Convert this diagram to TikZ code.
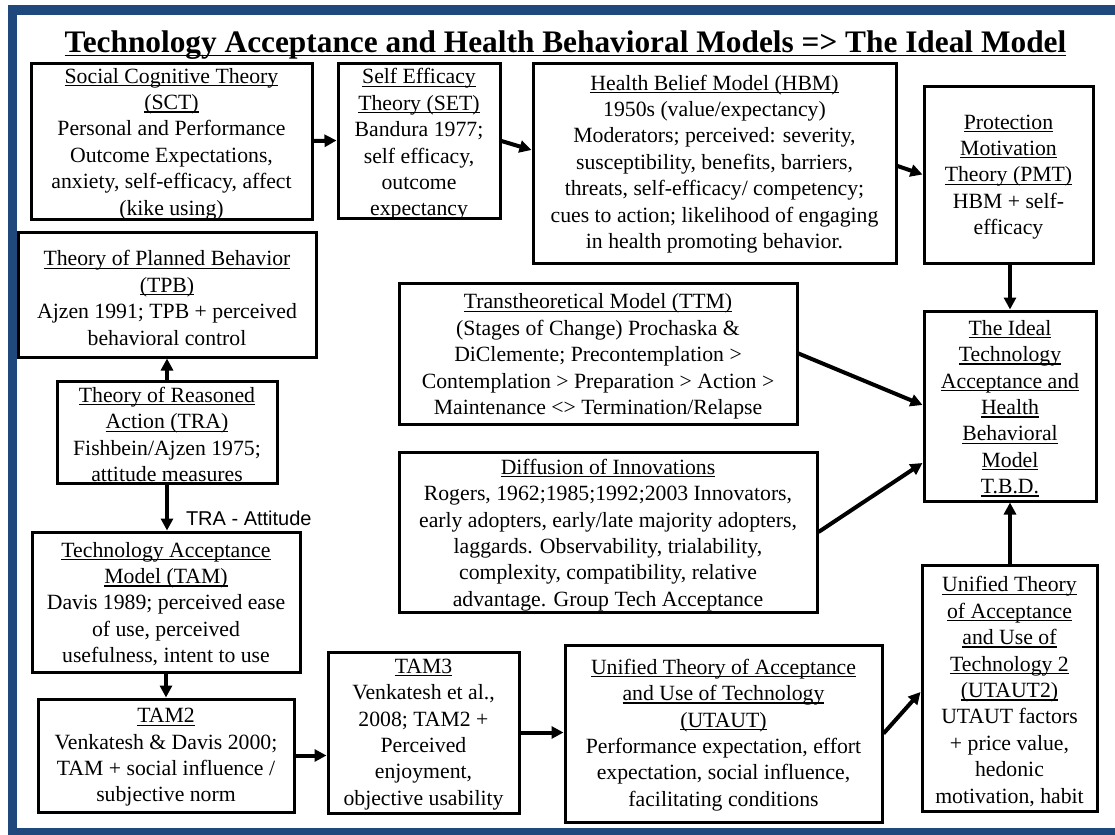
\documentclass[tikz,border=0pt]{standalone}
\usepackage{fontspec}
\newfontfamily\bodyserif{Liberation Serif}
\newfontfamily\labelsans{Liberation Sans}
\usetikzlibrary{arrows.meta,calc,fit}
\definecolor{frameblue}{HTML}{1F497D}
% underline at a fixed depth below the baseline
\newsavebox\ulinebox
\newcommand\uln[1]{\sbox\ulinebox{#1}\rlap{\rule[-0.14em]{\wd\ulinebox}{0.06em}}\usebox\ulinebox}

\begin{document}
\begin{tikzpicture}[x=0.75pt,y=-0.75pt,
  box/.style={draw=black, line width=2.25pt, inner sep=0pt, fill=white},
  txt/.style={align=center, inner sep=0pt, font=\bodyserif\fontsize{16.3}{19.8}\selectfont},
  arr/.style={line width=3pt, -{Triangle[length=9pt,width=9pt]}}
]
\useasboundingbox (0,0) rectangle (1115,835);
% frame
\fill[frameblue] (8,5) rectangle (1115,835);
\fill[white] (17,15) rectangle (1115,828);

% title
\node[anchor=base, inner sep=0pt, font=\bodyserif\bfseries\fontsize{23.5}{28}\selectfont] (title) at (565.5,52)
  {\uln{Technology Acceptance and Health Behavioral Models => The Ideal Model}};

% boxes
\node[box, fit={(31,63) (312,219)}] (sct) {};
\node[box, fit={(338,63) (500,218)}] (set) {};
\node[box, fit={(533,63) (896,263)}] (hbm) {};
\node[box, fit={(924,86) (1093,263)}] (pmt) {};
\node[box, fit={(18,232) (316,357)}] (tpb) {};
\node[box, fit={(57,381) (277,483)}] (tra) {};
\node[box, fit={(32,532) (300,672)}] (tam) {};
\node[box, fit={(38,699) (294,812)}] (tam2) {};
\node[box, fit={(328,652) (519,813)}] (tam3) {};
\node[box, fit={(565,645) (882,822)}] (utaut) {};
\node[box, fit={(922,565) (1097,811)}] (utaut2) {};
\node[box, fit={(399,283) (797,424)}] (ttm) {};
\node[box, fit={(399,452) (817,612)}] (doi) {};
\node[box, fit={(924,311) (1096,501)}] (ideal) {};

% box texts
\node[txt] (sct-t) at (171.5,144) {\uln{Social Cognitive Theory}\\ \uln{(SCT)}\\ Personal and Performance\\ Outcome Expectations,\\ anxiety, self-efficacy, affect\\ (kike using)};
\node[txt] (set-t) at (419,144.5) {\uln{Self Efficacy}\\ \uln{Theory (SET)}\\ Bandura 1977;\\ self efficacy,\\ outcome\\ expectancy};
\node[txt] (hbm-t) at (714.5,164) {\uln{Health Belief Model (HBM)}\\ 1950s (value/expectancy)\\ Moderators; perceived: severity,\\ susceptibility, benefits, barriers,\\ threats, self-efficacy/ competency;\\ cues to action; likelihood of engaging\\ in health promoting behavior.};
\node[txt] (pmt-t) at (1008.5,177) {\uln{Protection}\\ \uln{Motivation}\\ \uln{Theory (PMT)}\\ HBM + self-\\ efficacy};
\node[txt] (tpb-t) at (167,298) {\uln{Theory of Planned Behavior}\\ \uln{(TPB)}\\ Ajzen 1991; TPB + perceived\\ behavioral control};
\node[txt] (tra-t) at (167,434.5) {\uln{Theory of Reasoned}\\ \uln{Action (TRA)}\\ Fishbein/Ajzen 1975;\\ attitude measures};
\node[txt] (tam-t) at (166,604) {\uln{Technology Acceptance}\\ \uln{Model (TAM)}\\ Davis 1989; perceived ease\\ of use, perceived\\ usefulness, intent to use};
\node[txt] (tam2-t) at (166,757.5) {\uln{TAM2}\\ Venkatesh \& Davis 2000;\\ TAM + social influence /\\ subjective norm};
\node[txt] (tam3-t) at (423.5,734.5) {\uln{TAM3}\\ Venkatesh et al.,\\ 2008; TAM2 +\\ Perceived\\ enjoyment,\\ objective usability};
\node[txt] (utaut-t) at (723.5,735) {\uln{Unified Theory of Acceptance}\\ \uln{and Use of Technology}\\ \uln{(UTAUT)}\\ Performance expectation, effort\\ expectation, social influence,\\ facilitating conditions};
\node[txt] (utaut2-t) at (1009.5,691.5) {\uln{Unified Theory}\\ \uln{of Acceptance}\\ \uln{and Use of}\\ \uln{Technology 2}\\ \uln{(UTAUT2)}\\ UTAUT factors\\ + price value,\\ hedonic\\ motivation, habit};
\node[txt] (ttm-t) at (598,356.5) {\uln{Transtheoretical Model (TTM)}\\ (Stages of Change) Prochaska \&\\ DiClemente; Precontemplation >\\ Contemplation > Preparation > Action >\\ Maintenance <> Termination/Relapse};
\node[txt] (doi-t) at (608,535) {\uln{Diffusion of Innovations}\\ Rogers, 1962;1985;1992;2003 Innovators,\\ early adopters, early/late majority adopters,\\ laggards. Observability, trialability,\\ complexity, compatibility, relative\\ advantage. Group Tech Acceptance};
\node[txt] (ideal-t) at (1010,408.5) {\uln{The Ideal}\\ \uln{Technology}\\ \uln{Acceptance and}\\ \uln{Health}\\ \uln{Behavioral}\\ \uln{Model}\\ \uln{T.B.D.}};

% connectors
\draw[arr] (sct.east) -- (set.west);
\draw[arr] ($(set.east)+(0,0.5)$) -- ($(hbm.west)+(0,-13)$);
\draw[arr] ($(hbm.east)+(0,3)$) -- (pmt.west);
\draw[arr] (ideal.north |- pmt.south) -- (ideal.north);
\draw[arr] (ttm.east) -- ($(ideal.west)+(0,-1)$);
\draw[arr] (doi.east) -- ($(ideal.west)+(0,57)$);
\draw[arr] (ideal.south |- utaut2.north) -- (ideal.south);
\draw[arr] (utaut.east) -- ($(utaut2.west)+(0,4)$);
\draw[arr] (tam3.east) -- (utaut.west |- tam3.east);
\draw[arr] (tam2.east) -- (tam3.west |- tam2.east);
\draw[arr] (tam.south) -- (tam2.north -| tam.south);
\draw[arr] (tra.south) -- node[pos=0.9, anchor=base west, xshift=12.75pt, inner sep=0pt,
  font=\labelsans\fontsize{15}{18}\selectfont] (tra-label) {TRA - Attitude} (tam.north -| tra.south);
\draw[arr] (tra.north) -- (tpb.south -| tra.north);
\end{tikzpicture}
\end{document}
